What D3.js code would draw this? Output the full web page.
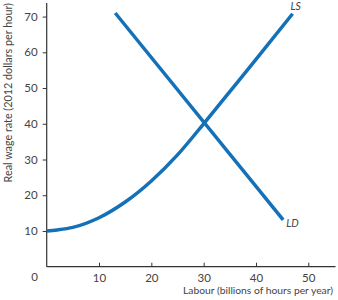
<!DOCTYPE html>
<html><head><meta charset="utf-8">
<script src="https://cdn.jsdelivr.net/npm/d3@7"></script>
<style>body{margin:0;background:#fff}svg{display:block}</style>
</head><body><svg id="c" width="338" height="300"></svg>
<script>
const xTicks = [10, 20, 30, 40, 50];
const yTicks = [10, 20, 30, 40, 50, 60, 70];
const lsX = [0, 2, 5, 10, 15, 20, 25, 30, 35, 40, 47];
const lsY = [10, 10.3, 11, 13.7, 18.1, 24, 31.3, 40, 49, 58, 70.8];
const ldX = [13.1, 45.2];
const ldY = [71, 13.1];

const svg = d3.select("#c");
const x = d3.scaleLinear().domain([0, 55.2]).range([46.7, 335.5]);
const y = d3.scaleLinear().domain([0, 73.8]).range([266.7, 3]);
const txt = "#444", font = "Lato, 'Open Sans', sans-serif";

svg.append("line").attr("x1", x(0)).attr("x2", x(0)).attr("y1", y(73.8)).attr("y2", y(0)).attr("stroke", "#333").attr("stroke-width", 1.2);
svg.append("line").attr("x1", x(0)).attr("x2", x(55.2)).attr("y1", y(0)).attr("y2", y(0)).attr("stroke", "#333").attr("stroke-width", 1.2);

const yg = svg.append("g").attr("transform", `translate(${x(0)},0)`)
  .call(d3.axisLeft(y).tickValues(yTicks).tickSize(4).tickPadding(5));
yg.select(".domain").remove();
yg.selectAll("line").attr("stroke", "#333");
yg.selectAll("text").attr("font-family", font).attr("font-size", 11.5).attr("fill", txt);

const xg = svg.append("g").attr("transform", `translate(0,${y(0)})`)
  .call(d3.axisBottom(x).tickValues(xTicks).tickSizeInner(-4).tickSizeOuter(0).tickPadding(7));
xg.select(".domain").remove();
xg.selectAll("line").attr("stroke", "#333");
xg.selectAll("text").attr("font-family", font).attr("font-size", 11.5).attr("fill", txt);

svg.append("text").attr("x", 38).attr("y", 281).attr("text-anchor", "end")
  .attr("font-family", font).attr("font-size", 11.5).attr("fill", txt).text("0");

svg.append("text").attr("x", 333).attr("y", 294).attr("text-anchor", "end")
  .attr("font-family", font).attr("font-size", 10.3).attr("fill", txt).text("Labour (billions of hours per year)");

svg.append("text").attr("transform", "translate(12,3) rotate(-90)").attr("text-anchor", "end")
  .attr("font-family", font).attr("font-size", 10.8).attr("fill", txt).text("Real wage rate (2012 dollars per hour)");

const blue = "#1471b8";
const ls = lsX.map((v, i) => [v, lsY[i]]);
const ld = ldX.map((v, i) => [v, ldY[i]]);
svg.append("path").attr("d", d3.line().x(d => x(d[0])).y(d => y(d[1])).curve(d3.curveMonotoneX)(ls))
  .attr("fill", "none").attr("stroke", blue).attr("stroke-width", 3.5);
svg.append("path").attr("d", d3.line().x(d => x(d[0])).y(d => y(d[1]))(ld))
  .attr("fill", "none").attr("stroke", blue).attr("stroke-width", 3.5);

svg.append("text").attr("x", x(47) - 2).attr("y", y(70.8) - 4).attr("font-family", font).attr("font-style", "italic")
  .attr("font-size", 10.5).attr("fill", txt).text("LS");
svg.append("text").attr("x", x(45.2) + 3).attr("y", y(13.1) + 7).attr("font-family", font).attr("font-style", "italic")
  .attr("font-size", 10.5).attr("fill", txt).text("LD");
</script></body></html>
